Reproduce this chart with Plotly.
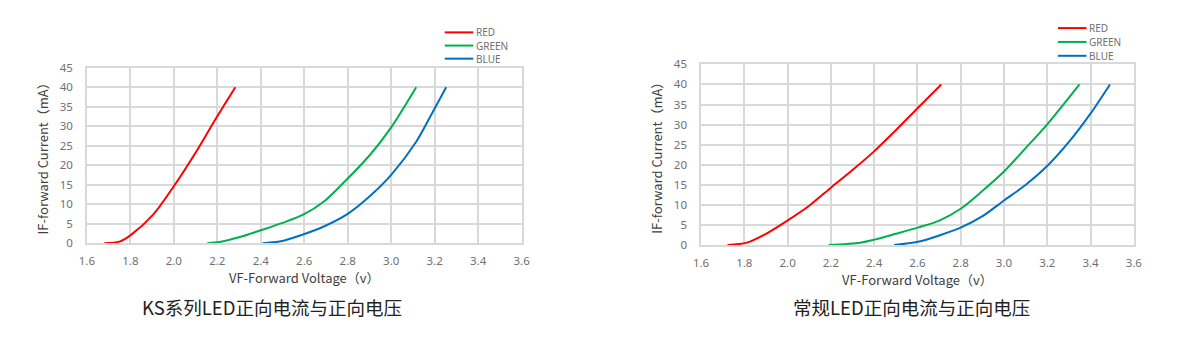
import plotly.graph_objects as go

W, H = 1200, 340

# ---------------- data ----------------
series_names = ["RED", "GREEN", "BLUE"]
series_colors = ["#FF0000", "#00B050", "#0070C0"]

# KS series LED
ks_red_v = [1.68, 1.75, 1.80, 1.905, 2.0, 2.1, 2.195, 2.283]
ks_red_i = [0, 0.4, 2.0, 7.3, 14.6, 23.2, 32.1, 40]
ks_green_v = [2.154, 2.21, 2.30, 2.40, 2.50, 2.595, 2.695, 2.79, 2.905, 3.0, 3.115]
ks_green_i = [0, 0.3, 1.5, 3.3, 5.2, 7.3, 10.9, 16.0, 22.8, 29.7, 40]
ks_blue_v = [2.408, 2.485, 2.598, 2.695, 2.80, 2.905, 3.0, 3.115, 3.18, 3.253]
ks_blue_i = [0, 0.4, 2.3, 4.4, 7.5, 12.2, 17.5, 26, 32.5, 40]

# Conventional LED
std_red_v = [1.722, 1.812, 1.9, 1.999, 2.1, 2.2, 2.3, 2.401, 2.5, 2.597, 2.71]
std_red_i = [0, 0.6, 2.8, 6.1, 9.8, 14.3, 18.7, 23.4, 28.6, 33.9, 40]
std_green_v = [2.19, 2.335, 2.401, 2.5, 2.605, 2.701, 2.802, 2.901, 3.0, 3.101, 3.202, 3.349]
std_green_i = [0, 0.6, 1.35, 2.8, 4.4, 6.1, 9.1, 13.5, 18.3, 24.2, 30.2, 40]
std_blue_v = [2.492, 2.602, 2.701, 2.802, 2.901, 3.0, 3.101, 3.202, 3.302, 3.398, 3.49]
std_blue_i = [0, 0.8, 2.4, 4.4, 7.2, 11.1, 15.0, 19.8, 25.8, 32.6, 40]

x_tick_vals = [1.6, 1.8, 2.0, 2.2, 2.4, 2.6, 2.8, 3.0, 3.2, 3.4, 3.6]
y_tick_vals = [0, 5, 10, 15, 20, 25, 30, 35, 40, 45]

captions = ["KS系列LED正向电流与正向电压", "常规LED正向电流与正向电压"]
x_title = "VF-Forward Voltage（v）"
y_title = "IF-forward Current（mA）"

# ---------------- layout constants (pixels) ----------------
panels = [
    dict(x0=80, x1=521, y0=62.5, y1=246, leg_x=443, leg_y=[25.5, 39.3, 53], cap_x=268),
    dict(x0=703, x1=1142, y0=59, y1=248, leg_x=1065, leg_y=[21, 35.5, 50], cap_x=916),
]
cap_y = 313

def px(x):
    return x / W

def py(y):
    return 1 - y / H

fig = go.Figure()

data_sets = [
    [(ks_red_v, ks_red_i), (ks_green_v, ks_green_i), (ks_blue_v, ks_blue_i)],
    [(std_red_v, std_red_i), (std_green_v, std_green_i), (std_blue_v, std_blue_i)],
]

tick_font = dict(family="Noto Sans", size=11.5, color="#707070")
title_font = dict(family="Noto Sans CJK SC", size=13, color="#404040")
grid_color = "#D9D9D9"

shapes = []
annotations = []
for k, (panel, sets) in enumerate(zip(panels, data_sets)):
    xa = "x" if k == 0 else "x2"
    ya = "y" if k == 0 else "y2"
    for (v, i), name, color in zip(sets, series_names, series_colors):
        fig.add_trace(go.Scatter(
            x=v, y=i, mode="lines", name=name, showlegend=False,
            line=dict(color=color, width=2, shape="spline", smoothing=0.8),
            xaxis=xa, yaxis=ya, hoverinfo="skip",
        ))
    axis_common = dict(
        showgrid=True, gridcolor=grid_color, gridwidth=1.5,
        showline=True, linecolor=grid_color, linewidth=1.5, mirror=True,
        zeroline=False, ticks="", tickfont=tick_font,
    )
    xkey = "xaxis" if k == 0 else "xaxis2"
    ykey = "yaxis" if k == 0 else "yaxis2"
    fig.update_layout(**{
        xkey: dict(
            domain=[px(panel["x0"]), px(panel["x1"])], range=[1.6, 3.6],
            tickvals=x_tick_vals, tickformat=".1f", anchor=ya,
            ticklabelstandoff=6,
            title=dict(text=x_title, font=title_font, standoff=0),
            **axis_common,
        ),
        ykey: dict(
            domain=[py(panel["y1"]), py(panel["y0"])], range=[0, 45],
            tickvals=y_tick_vals, anchor=xa,
            ticklabelstandoff=10,
            title=dict(text=y_title, font=title_font, standoff=8),
            **axis_common,
        ),
    })
    # custom compact legend
    for name, color, ly in zip(series_names, series_colors, panel["leg_y"]):
        shapes.append(dict(
            type="line", xref="paper", yref="paper",
            x0=px(panel["leg_x"]), x1=px(panel["leg_x"] + 29),
            y0=py(ly), y1=py(ly), line=dict(color=color, width=2),
        ))
        annotations.append(dict(
            xref="paper", yref="paper", x=px(panel["leg_x"] + 31), y=py(ly),
            xanchor="left", yanchor="middle", text=name, showarrow=False,
            borderpad=0,
            font=dict(family="Noto Sans", size=10, color="#707070"),
        ))
    annotations.append(dict(
        xref="paper", yref="paper", x=px(panel["cap_x"]), y=py(cap_y),
        xanchor="center", yanchor="middle", text=captions[k], showarrow=False,
        font=dict(family="Noto Sans CJK SC", size=18.5, color="#222222"),
    ))

fig.update_layout(
    width=W, height=H,
    margin=dict(l=0, r=0, t=0, b=0),
    paper_bgcolor="white", plot_bgcolor="white",
    showlegend=False,
    shapes=shapes, annotations=annotations,
)

fig.write_html("out.html")
